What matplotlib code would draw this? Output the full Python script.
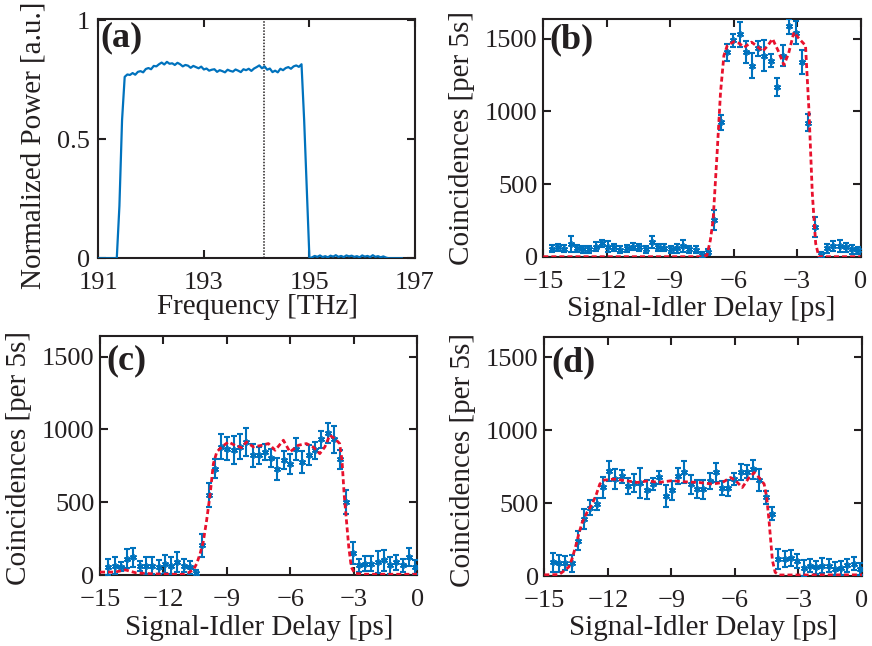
import numpy as np
import matplotlib
matplotlib.use('Agg')
import matplotlib.pyplot as plt

plt.rcParams['font.family'] = ['Liberation Serif', 'DejaVu Serif']
plt.rcParams['axes.unicode_minus'] = True

BLUE = '#0072BD'
RED = '#E8112D'
TXT = '#231F20'

# ---------------- panel (a): spectrum ----------------
power = [0, 0, 0, 0, 0, 0, 0, 0, 0.22, 0.58,
         0.762, 0.772, 0.770, 0.778, 0.771, 0.783, 0.786, 0.781, 0.795, 0.799,
         0.794, 0.808, 0.806, 0.815, 0.822, 0.814, 0.825, 0.817, 0.819, 0.812,
         0.821, 0.815, 0.806, 0.812, 0.809, 0.800, 0.808, 0.803, 0.798, 0.805,
         0.793, 0.797, 0.788, 0.792, 0.794, 0.783, 0.790, 0.786, 0.781, 0.792,
         0.787, 0.784, 0.793, 0.788, 0.782, 0.794, 0.790, 0.796, 0.787, 0.797,
         0.803, 0.810, 0.798, 0.806, 0.792, 0.797, 0.782, 0.788, 0.781, 0.796,
         0.790, 0.799, 0.803, 0.796, 0.806, 0.810, 0.804, 0.815,
         0.58, 0.29, 0.0,
         0.004, 0.010, 0.006, 0.012, 0.005, 0.009, 0.004, 0.011, 0.007, 0.013,
         0.006, 0.010, 0.005, 0.012, 0.008, 0.011, 0.006, 0.009, 0.004, 0.012,
         0.007, 0.010, 0.005, 0.013, 0.006, 0.009, 0.004, 0.008, 0.003,
         0, 0, 0, 0, 0, 0]
freq = np.linspace(191.0, 196.75, len(power))
marker_freq = 194.13
freq_ticks = [191, 193, 195, 197]
power_ticks = [0, 0.5, 1]
power_ticklabels = ['0', '0.5', '1']

# ---------------- panels (b)-(d): coincidences ----------------
delay = [-14.60, -14.30, -14.01, -13.71, -13.42, -13.12, -12.82, -12.53, -12.23, -11.94,
         -11.64, -11.35, -11.05, -10.75, -10.46, -10.16, -9.87, -9.57, -9.27, -8.98,
         -8.68, -8.39, -8.09, -7.79, -7.50, -7.20, -6.91, -6.61, -6.31, -6.02,
         -5.72, -5.43, -5.13, -4.84, -4.54, -4.24, -3.95, -3.65, -3.36, -3.06,
         -2.76, -2.47, -2.17, -1.88, -1.58, -1.28, -0.99, -0.69, -0.40, -0.10]

b_counts = [55, 65, 55, 85, 58, 50, 52, 68, 92, 70,
            65, 48, 58, 70, 65, 52, 100, 65, 62, 50,
            58, 75, 50, 48, 12, 35, 253, 927, 1408, 1490,
            1530, 1408, 1315, 1435, 1385, 1350, 1170, 1385, 1585, 1542,
            1339, 923, 207, 10, 57, 73, 73, 64, 50, 45]
b_err = [25, 25, 25, 55, 25, 25, 25, 30, 25, 35,
         25, 25, 25, 25, 25, 25, 40, 25, 25, 25,
         30, 40, 25, 25, 20, 20, 70, 52, 58, 46,
         86, 75, 87, 52, 106, 46, 63, 75, 52, 81,
         81, 60, 69, 25, 30, 35, 40, 30, 30, 25]
b_fit_x = [-15, -7.5, -7.26, -7.1, -6.97, -6.78, -6.62, -6.46, -6.3, -6.0,
           -5.75, -5.5, -5.15, -4.9, -4.63, -4.4, -4.16, -3.9, -3.62, -3.4,
           -3.15, -2.9, -2.6, -2.44, -2.28, -2.12, -1.97, 0]
b_fit_y = [0, 0, 10, 114, 253, 715, 1130, 1385, 1454, 1480,
           1470, 1442, 1477, 1450, 1415, 1450, 1500, 1420, 1320, 1400,
           1545, 1500, 1454, 1015, 438, 91, 0, 0]

c_counts = [54, 65, 58, 111, 122, 60, 65, 65, 54, 77,
            65, 88, 65, 54, 12, 203, 547, 731, 880, 868,
            857, 880, 912, 822, 822, 845, 806, 731, 788, 765,
            868, 777, 822, 857, 932, 978, 932, 794, 502, 152,
            66, 77, 77, 88, 100, 66, 88, 66, 123, 54]
c_err = [57, 57, 30, 65, 65, 35, 57, 57, 50, 63,
         57, 70, 45, 45, 25, 76, 83, 63, 86, 80,
         97, 86, 95, 80, 57, 57, 63, 75, 63, 69,
         75, 75, 69, 57, 57, 69, 92, 63, 80, 75,
         46, 52, 52, 75, 75, 57, 52, 46, 63, 46]
c_fit_x = [-15, -14.3, -13.8, -13.3, -12.5, -11.5, -11.0, -10.83, -10.59, -10.43,
           -10.27, -10.12, -9.96, -9.80, -9.64, -9.48, -9.25, -8.93, -8.62, -8.31,
           -8.07, -7.75, -7.35, -7.04, -6.72, -6.33, -6.02, -5.63, -5.24, -4.93,
           -4.61, -4.37, -4.14, -3.90, -3.67, -3.56, -3.46, -3.35, -3.24, -3.12,
           -2.96, -2.5, 0]
c_fit_y = [20, 20, 35, 15, 8, 5, 5, 15, 35, 77,
           146, 226, 375, 547, 765, 845, 880, 914, 891, 875,
           914, 880, 891, 903, 857, 926, 845, 891, 903, 880,
           834, 880, 960, 937, 903, 788, 559, 375, 192, 54,
           12, 5, 5]

d_counts = [95, 88, 90, 88, 245, 390, 470, 495, 610, 723,
            668, 685, 620, 638, 640, 592, 632, 678, 553, 590,
            690, 712, 632, 598, 598, 655, 712, 605, 605, 665,
            712, 718, 735, 662, 541, 428, 118, 120, 128, 105,
            58, 72, 62, 72, 72, 52, 58, 76, 86, 48]
d_err = [68, 57, 50, 57, 68, 68, 50, 40, 73, 68,
         68, 45, 55, 60, 100, 65, 40, 45, 75, 65,
         55, 75, 65, 60, 65, 55, 65, 50, 55, 40,
         55, 45, 65, 75, 45, 45, 70, 55, 55, 50,
         55, 45, 45, 50, 45, 45, 50, 45, 45, 40]
d_fit_x = [-15, -14.3, -14.08, -13.84, -13.69, -13.53, -13.37, -13.21, -12.98, -12.74,
           -12.54, -12.38, -12.19, -11.72, -11.09, -10.62, -10.1, -9.6, -9.0, -8.4,
           -7.69, -7.06, -6.59, -6.2, -5.96, -5.65, -5.33, -5.09, -4.86, -4.62,
           -4.5, -4.39, -4.31, -4.23, -4.1, -3.9, 0]
d_fit_y = [10, 12, 36, 64, 120, 200, 291, 370, 439, 495,
           563, 632, 659, 666, 654, 643, 654, 643, 655, 648,
           643, 632, 643, 677, 654, 609, 677, 711, 677, 632,
           541, 382, 245, 109, 27, 9, 10]

delay_ticks = [-15, -12, -9, -6, -3, 0]
count_ticks = [0, 500, 1000, 1500]

# ---------------- figure ----------------
W, H = 872, 646
fig = plt.figure(figsize=(W / 100, H / 100), dpi=100)


def add_ax(l, t, r, b):
    return fig.add_axes([l / W, 1 - b / H, (r - l) / W, (b - t) / H])


def style(ax):
    for s in ax.spines.values():
        s.set_linewidth(1.5)
        s.set_color(TXT)
    ax.tick_params(direction='in', length=6, width=1.5, top=True, right=True,
                   labelsize=19, colors=TXT, labelcolor=TXT)
    ax.tick_params(axis='x', pad=10)
    ax.tick_params(axis='y', pad=4)


def panel_label(ax, txt, x, y):
    ax.text(x, y, txt, transform=ax.transAxes, fontsize=26, fontweight='bold',
            va='top', ha='left', color=TXT)


# (a)
axa = add_ax(98.3, 19, 415, 258.3)
axa.plot(freq, power, color=BLUE, lw=1.6, zorder=3)
axa.axvline(marker_freq, color=TXT, lw=1.1, ls=(0, (1, 1)), zorder=2)
axa.set_xlim(191, 197)
axa.set_ylim(0, 1.005)
axa.set_xticks(freq_ticks)
axa.set_yticks(power_ticks)
axa.set_yticklabels(power_ticklabels)
style(axa)
axa.tick_params(axis='y', pad=6)
axa.set_xlabel('Frequency [THz]', fontsize=21, color=TXT)
axa.set_ylabel('Normalized Power [a.u.]', fontsize=21, color=TXT)
axa.xaxis.set_label_coords(0.503, -0.15)
axa.yaxis.set_label_coords(-0.162, 0.473)
panel_label(axa, '(a)', 0.006, 0.99)


def coinc_panel(box, counts, err, fx, fy, label, lab_xy, ylab_xy, xlab_xy):
    ax = add_ax(*box)
    ax.errorbar(delay, counts, yerr=err, fmt='none', ecolor=BLUE,
                elinewidth=1.5, capsize=2.4, capthick=1.5, zorder=3)
    ax.plot(delay, counts, ls='none', marker=(6, 2, 0), ms=5, mec=BLUE,
            mew=1.2, zorder=4)
    ax.plot(fx, fy, color=RED, lw=2.0, dashes=(1.8, 1.1), zorder=5)
    ax.set_xlim(-15, 0)
    ax.set_ylim(0, 1640)
    ax.set_xticks(delay_ticks)
    ax.set_yticks(count_ticks)
    style(ax)
    ax.set_xlabel('Signal-Idler Delay [ps]', fontsize=21, color=TXT)
    ax.set_ylabel('Coincidences [per 5s]', fontsize=21, color=TXT)
    ax.xaxis.set_label_coords(*xlab_xy)
    ax.yaxis.set_label_coords(*ylab_xy)
    panel_label(ax, label, *lab_xy)
    return ax


coinc_panel((543.3, 18.5, 860.5, 256.7), b_counts, b_err, b_fit_x, b_fit_y,
            '(b)', (0.02, 0.98), (-0.215, 0.5), (0.497, -0.163))
coinc_panel((100, 336.3, 417.3, 575), c_counts, c_err, c_fit_x, c_fit_y,
            '(c)', (0.02, 0.965), (-0.214, 0.492), (0.501, -0.168))
coinc_panel((544.3, 337, 862, 576.3), d_counts, d_err, d_fit_x, d_fit_y,
            '(d)', (0.022, 0.96), (-0.215, 0.487), (0.5, -0.163))

fig.savefig('out.png', dpi=100)
